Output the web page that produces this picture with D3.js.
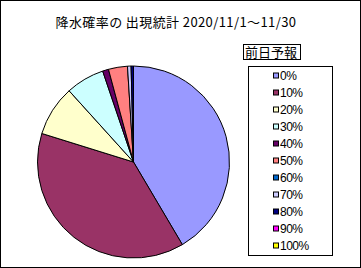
<!DOCTYPE html>
<html>
<head>
<meta charset="utf-8">
<script src="https://cdn.jsdelivr.net/npm/d3@7"></script>
<style>
  body { margin: 0; background: #fff; }
  text { font-family: "Noto Sans CJK JP", "Liberation Sans", sans-serif; }
</style>
</head>
<body>
<svg id="chart" width="361" height="268"></svg>
<script>
// share of each forecast probability (percent of days)
var categories = ["0%", "10%", "20%", "30%", "40%", "50%", "60%", "70%", "80%", "90%", "100%"];
var shares = [41.5, 38.3, 8.5, 6.5, 1.0, 3.2, 0, 0.6, 0.4, 0, 0];
var colors = ["#9999ff", "#993366", "#ffffcc", "#ccffff", "#660066", "#ff8080",
              "#0066cc", "#ccccff", "#000080", "#ff00ff", "#ffff00"];
var title = "降水確率の 出現統計 2020/11/1～11/30";
var legendTitle = "前日予報";

var svg = d3.select("#chart");
var width = +svg.attr("width"), height = +svg.attr("height");

// outer frame
svg.append("rect")
   .attr("x", 0.5).attr("y", 0.5)
   .attr("width", width - 1).attr("height", height - 1)
   .attr("fill", "#fff").attr("stroke", "#000");

svg.append("text")
   .attr("x", 176).attr("y", 27)
   .attr("text-anchor", "middle")
   .style("font-size", "13px")
   .style("letter-spacing", "0.4px")
   .text(title);

var data = categories.map(function(c, i){
  return { name: c, value: shares[i], color: colors[i] };
});

var pie = d3.pie().sort(null).value(function(d){ return d.value; });
var arc = d3.arc().innerRadius(0).outerRadius(96);

var g = svg.append("g").attr("transform", "translate(133.5,162)");
g.selectAll("path")
 .data(pie(data).filter(function(d){ return d.data.value > 0; }))
 .enter().append("path")
 .attr("d", arc)
 .attr("fill", function(d){ return d.data.color; })
 .attr("stroke", "#000")
 .attr("stroke-width", 1);

// legend title box
var lt = svg.append("g");
lt.append("rect")
  .attr("x", 243.5).attr("y", 44.5)
  .attr("width", 57).attr("height", 15)
  .attr("fill", "#fff").attr("stroke", "#000");
lt.append("text")
  .attr("x", 245).attr("y", 57)
  .style("font-size", "13px")
  .text(legendTitle);

// legend
var y = d3.scalePoint().domain(categories).range([75.5, 245.5]);
svg.append("rect")
   .attr("x", 248.5).attr("y", 66.5)
   .attr("width", 84).attr("height", 189)
   .attr("fill", "#fff").attr("stroke", "#000");

var item = svg.selectAll(".item")
  .data(data)
  .enter().append("g")
  .attr("class", "item")
  .attr("transform", function(d){ return "translate(273," + y(d.name) + ")"; });
item.append("rect")
  .attr("x", 0.5).attr("y", -2.5)
  .attr("width", 5).attr("height", 5)
  .attr("fill", function(d){ return d.color; })
  .attr("stroke", "#000");
item.append("text")
  .attr("x", 7).attr("y", 4.5)
  .style("font-family", "Liberation Sans, sans-serif")
  .style("font-size", "12px")
  .style("letter-spacing", "-0.5px")
  .text(function(d){ return d.name; });
</script>
</body>
</html>
